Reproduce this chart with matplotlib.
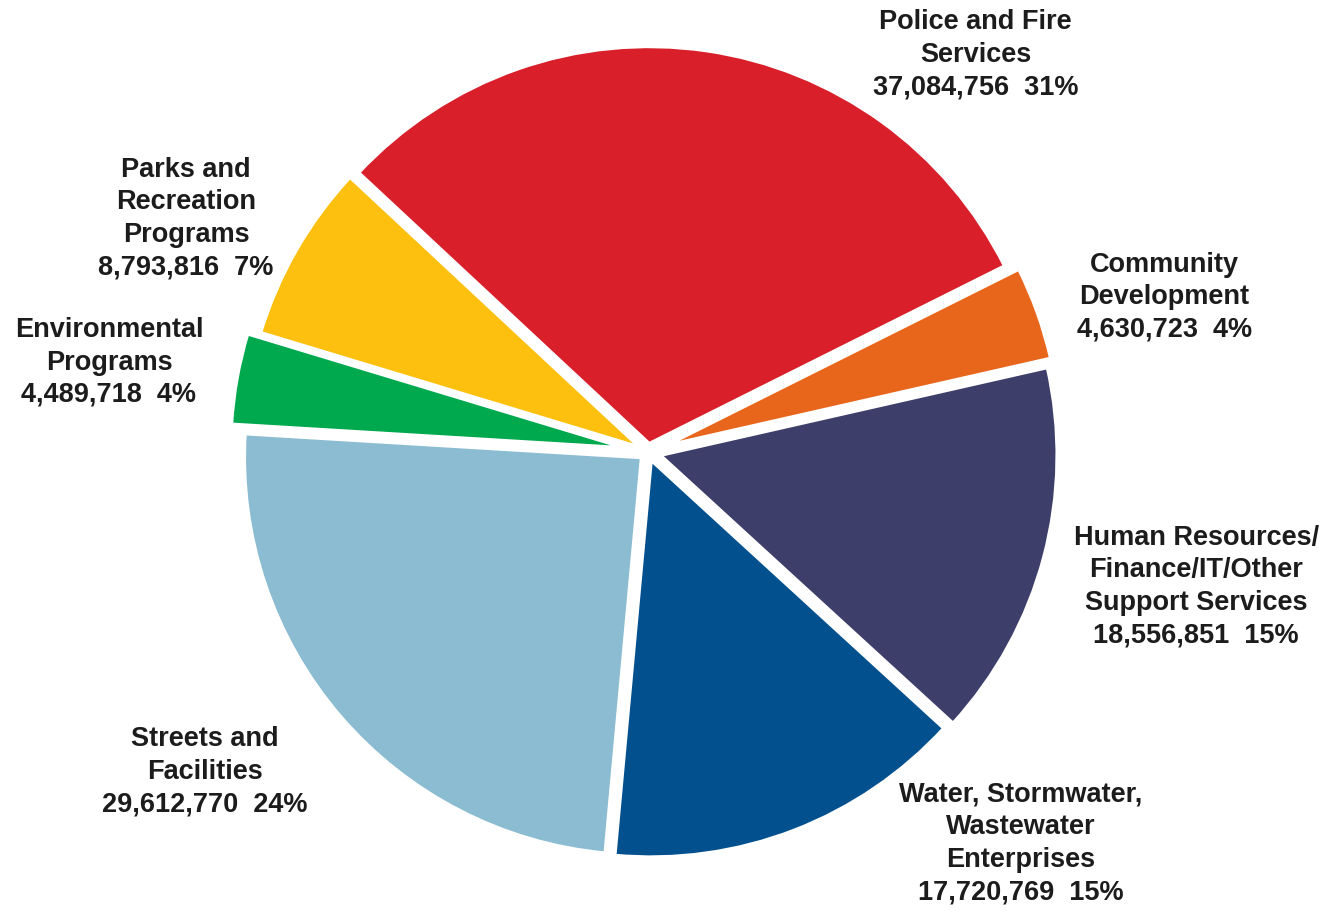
import matplotlib.pyplot as plt

plt.rcParams['font.family'] = ['Liberation Sans', 'DejaVu Sans']

# budget by service area, clockwise from the top
names = ['Police and Fire\nServices',
         'Community\nDevelopment',
         'Human Resources/\nFinance/IT/Other\nSupport Services',
         'Water, Stormwater,\nWastewater\nEnterprises',
         'Streets and\nFacilities',
         'Environmental\nPrograms',
         'Parks and\nRecreation\nPrograms']
amounts = [37084756, 4630723, 18556851, 17720769, 29612770, 4489718, 8793816]
colors = ['#D81F2A', '#E8661C', '#3D3E6A', '#03508F', '#8BBCD1', '#00A84E', '#FDC00E']
explode = [0.02, 0.04, 0.03, 0.02, 0.02, 0.05, 0.02]

# label centres in figure fractions
label_pos = [(0.734, 0.940), (0.876, 0.674), (0.900, 0.356), (0.768, 0.074),
             (0.154, 0.153), (0.082, 0.602), (0.140, 0.760)]

W, H = 1329, 911
cx, cy, R = 648, 452, 398

fig = plt.figure(figsize=(W / 100, H / 100), dpi=100)
ax = fig.add_axes([0, 0, 1, 1])
ax.pie(amounts, colors=colors, explode=explode, startangle=137, counterclock=False,
       radius=1, center=(0, 0),
       wedgeprops=dict(edgecolor='white', linewidth=3))
ax.set_xlim(-cx / R, (W - cx) / R)
ax.set_ylim(-(H - cy) / R, cy / R)
ax.set_aspect('equal')
ax.axis('off')

total = sum(amounts)
for name, v, (fx, fy) in zip(names, amounts, label_pos):
    pct = round(v / total * 100)
    fig.text(fx, fy, f'{name}\n{v:,}  {pct}%', ha='center', va='center',
             fontsize=19.5, fontweight='bold', color='#1c1c1c', linespacing=1.32,
             transform=fig.transFigure)

fig.savefig('out.png', dpi=100, facecolor='white')
